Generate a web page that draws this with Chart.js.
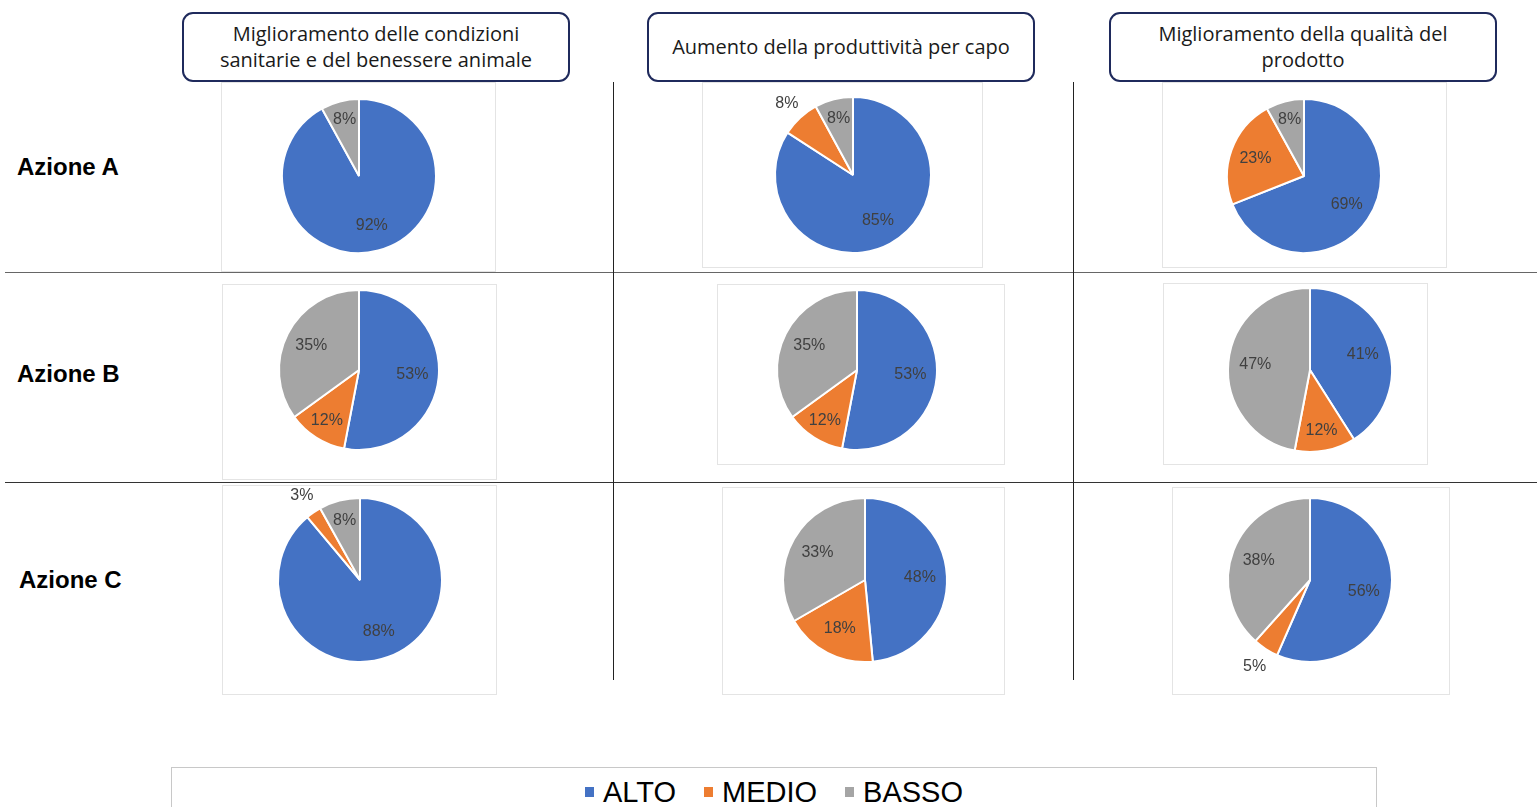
<!DOCTYPE html>
<html lang="it">
<head>
<meta charset="UTF-8">
<title>Azioni</title>
<script src="https://cdn.jsdelivr.net/npm/chart.js@4.4.0/dist/chart.umd.min.js"></script>
<style>
  html, body { margin: 0; padding: 0; background: #fff; }
  body { width: 1537px; height: 807px; position: relative; overflow: hidden; font-family: "Liberation Sans", Arial, sans-serif; }
  .head {
    position: absolute; top: 12px; height: 70px; box-sizing: border-box;
    border: 2px solid #1f2a5c; border-radius: 11px; background: #fff;
    display: flex; align-items: center; justify-content: center; text-align: center;
    font-family: "Open Sans", sans-serif; font-size: 20px; line-height: 26px; color: #1a1a1a;
  }
  .row { position: absolute; font-weight: bold; font-size: 24px; color: #000; }
  .hline { position: absolute; height: 0; }
  .vline { position: absolute; width: 0; border-left: 1px solid #222; }
  .cell { position: absolute; border: 1px solid #e4e4e4; box-sizing: border-box; }
  .pie { position: absolute; width: 300px; height: 230px; }
  .legend {
    position: absolute; left: 171px; top: 767px; width: 1206px; height: 60px; box-sizing: border-box;
    border: 1.5px solid #c8c8c8; display: flex; justify-content: center; padding-top: 0;
    font-size: 29px; color: #000;
  }
  .legend span { display: inline-flex; align-items: center; margin: 0 14px; position: relative; top: -5px; }
  .legend i { display: inline-block; width: 9px; height: 10px; margin-right: 9px; }
</style>
</head>
<body>
<script>
// categorie e serie
const categories = ['ALTO', 'MEDIO', 'BASSO'];
const colors = ['#4472C4', '#ED7D31', '#A5A5A5'];
const headers = [
  'Miglioramento delle condizioni<br>sanitarie e del benessere animale',
  'Aumento della produttività per capo',
  'Miglioramento della qualità del<br>prodotto'
];
const rowLabels = ['Azione A', 'Azione B', 'Azione C'];
// valori per azione: [ALTO, MEDIO, BASSO] per ciascun obiettivo
const azioneA = [[92, 0, 8], [85, 8, 8], [69, 23, 8]];
const azioneB = [[53, 12, 35], [53, 12, 35], [41, 12, 47]];
const azioneC = [[88, 3, 8], [48, 18, 33], [56, 5, 38]];
const allValues = [azioneA, azioneB, azioneC];

// layout
const headLeft = [182, 647, 1109], headWidth = 388;
const rowTop = [153, 360, 566], rowLeft = [17, 17, 19];
const pieCenters = [
  [[359, 176, 77], [853, 175, 78], [1304, 176, 77]],
  [[359, 370, 80], [857, 370, 80], [1310, 370, 82]],
  [[360, 580, 82], [865, 580, 82], [1310, 580, 82]]
];
const cellBoxes = [
  [[221, 82, 275, 190], [702, 82, 281, 186], [1162, 82, 285, 186]],
  [[222, 284, 275, 196], [717, 284, 288, 181], [1163, 283, 265, 182]],
  [[222, 485, 275, 210], [722, 487, 283, 208], [1172, 487, 278, 208]]
];

function el(cls, css, html) {
  const d = document.createElement('div');
  d.className = cls;
  Object.assign(d.style, css);
  if (html) d.innerHTML = html;
  document.body.appendChild(d);
  return d;
}

// linee della griglia
el('hline', { left: '5px', top: '272px', width: '1532px', borderTop: '1.5px solid #666' });
el('hline', { left: '5px', top: '482px', width: '1532px', borderTop: '1.5px solid #333' });
el('vline', { left: '613px', top: '82px', height: '598px' });
el('vline', { left: '1073px', top: '82px', height: '598px' });

headers.forEach((h, i) => el('head', { left: headLeft[i] + 'px', width: headWidth + 'px' }, h));
rowLabels.forEach((r, i) => el('row', { left: rowLeft[i] + 'px', top: rowTop[i] + 'px' }, r));

// etichette percentuali sugli spicchi
const pctLabels = {
  id: 'pctLabels',
  afterDatasetsDraw(chart) {
    const ctx = chart.ctx;
    const data = chart.data.datasets[0].data;
    const meta = chart.getDatasetMeta(0);
    ctx.save();
    ctx.font = '16px "Liberation Sans", Arial, sans-serif';
    ctx.fillStyle = '#404040';
    ctx.textAlign = 'center';
    ctx.textBaseline = 'middle';
    meta.data.forEach((arc, i) => {
      const v = data[i];
      if (!v) return;
      const p = arc.getProps(['x', 'y', 'startAngle', 'endAngle', 'outerRadius'], true);
      const mid = (p.startAngle + p.endAngle) / 2;
      const outside = v <= 8 && i < data.length - 1;
      const f = outside ? 1.25 : (v < 15 ? 0.75 : 0.67);
      ctx.fillText(v + '%', p.x + Math.cos(mid) * p.outerRadius * f, p.y + Math.sin(mid) * p.outerRadius * f);
    });
    ctx.restore();
  }
};

allValues.forEach((rowVals, r) => {
  rowVals.forEach((vals, c) => {
    const b = cellBoxes[r][c];
    el('cell', { left: b[0] + 'px', top: b[1] + 'px', width: b[2] + 'px', height: b[3] + 'px' });
    const [cx, cy, rad] = pieCenters[r][c];
    const box = el('pie', { left: (cx - 150) + 'px', top: (cy - 115) + 'px' });
    const cv = document.createElement('canvas');
    box.appendChild(cv);
    new Chart(cv, {
      type: 'pie',
      data: {
        labels: categories,
        datasets: [{
          data: vals,
          backgroundColor: colors,
          borderColor: '#ffffff',
          borderWidth: 2,
          radius: rad
        }]
      },
      options: {
        responsive: true,
        maintainAspectRatio: false,
        animation: false,
        plugins: { legend: { display: false }, tooltip: { enabled: false } }
      },
      plugins: [pctLabels]
    });
  });
});

// legenda
const leg = el('legend', {});
categories.forEach((c, i) => {
  const s = document.createElement('span');
  s.innerHTML = '<i style="background:' + colors[i] + '"></i>' + c;
  leg.appendChild(s);
});
</script>
</body>
</html>
